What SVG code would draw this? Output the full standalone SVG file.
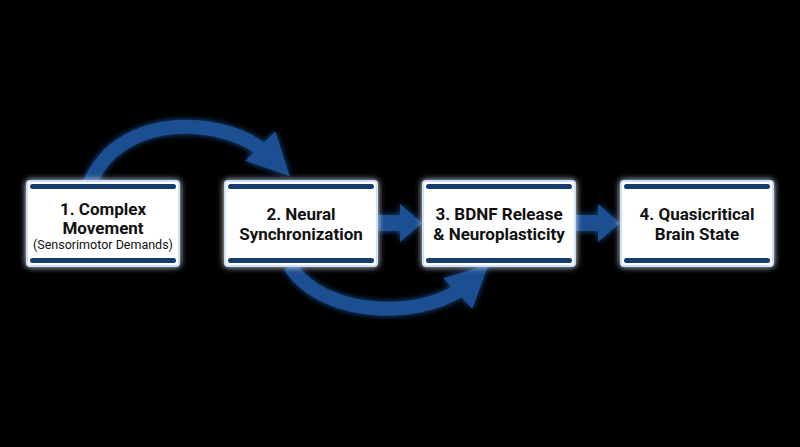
<svg xmlns="http://www.w3.org/2000/svg" width="800" height="447" viewBox="0 0 800 447">
<defs>
<filter id="glow" x="-20%" y="-20%" width="140%" height="140%"><feGaussianBlur in="SourceAlpha" stdDeviation="4"/><feFlood flood-color="#2f6fd0" flood-opacity="0.9"/><feComposite operator="in" in2="SourceGraphic"/><feMerge><feMergeNode/><feMergeNode in="SourceGraphic"/></feMerge></filter>
<filter id="g2" x="-30%" y="-30%" width="160%" height="160%"><feGaussianBlur in="SourceGraphic" stdDeviation="3" result="b"/><feMerge><feMergeNode in="b"/><feMergeNode in="SourceGraphic"/></feMerge></filter>
<filter id="bx" x="-20%" y="-30%" width="140%" height="160%"><feMorphology in="SourceAlpha" operator="dilate" radius="2"/><feGaussianBlur stdDeviation="4"/><feFlood flood-color="#3a7ee8"/><feComposite operator="in" in2="SourceAlpha"/></filter>
<marker id="ah" markerWidth="3" markerHeight="3" refX="1.2" refY="1.5" orient="auto"><path d="M0,0 L3,1.5 L0,3 z" fill="#1b4f91"/></marker>
</defs>
<style>
.box{fill:#fff;stroke:#cfe0ff;stroke-width:2}
.bar{fill:#163a6e}
.t{font-family:Roboto,"Liberation Sans",sans-serif;font-weight:bold;font-size:17px;fill:#111;text-anchor:middle}
.s{font-family:Roboto,"Liberation Sans",sans-serif;font-size:12.5px;fill:#111;text-anchor:middle}
.c{fill:none;stroke:#1b4f91;stroke-width:14}
</style>
<rect width="800" height="447" fill="#000"/>
<g id="connectors" filter="url(#g2)">
<path class="c" d="M90,183 C120,110 230,115 272,158" marker-end="url(#ah)"/>
<path class="c" d="M290,266 C325,320 430,320 470,282" marker-end="url(#ah)"/>
<path d="M378,215 H400 V204 L422,223 L400,242 V231 H378 Z" fill="#1b4f91"/>
<path d="M576,215 H598 V204 L620,223 L598,242 V231 H576 Z" fill="#1b4f91"/>
</g>
<g id="n1" filter="url(#g2)"><rect class="box" x="27" y="181" width="152" height="85" rx="3"/><rect class="bar" x="30" y="184" width="146" height="5" rx="2.5"/><rect class="bar" x="30" y="258" width="146" height="5" rx="2.5"/></g>
<g id="n2" filter="url(#g2)"><rect class="box" x="225" y="181" width="152" height="85" rx="3"/><rect class="bar" x="228" y="184" width="146" height="5" rx="2.5"/><rect class="bar" x="228" y="258" width="146" height="5" rx="2.5"/></g>
<g id="n3" filter="url(#g2)"><rect class="box" x="423" y="181" width="152" height="85" rx="3"/><rect class="bar" x="426" y="184" width="146" height="5" rx="2.5"/><rect class="bar" x="426" y="258" width="146" height="5" rx="2.5"/></g>
<g id="n4" filter="url(#g2)"><rect class="box" x="621" y="181" width="152" height="85" rx="3"/><rect class="bar" x="624" y="184" width="146" height="5" rx="2.5"/><rect class="bar" x="624" y="258" width="146" height="5" rx="2.5"/></g>
<g id="labels">
<text class="t" x="103" y="215">1. Complex</text>
<text class="t" x="103" y="234">Movement</text>
<text class="s" x="103" y="249">(Sensorimotor Demands)</text>
<text class="t" x="301" y="220">2. Neural</text>
<text class="t" x="301" y="240">Synchronization</text>
<text class="t" x="499" y="220">3. BDNF Release</text>
<text class="t" x="499" y="240">&amp; Neuroplasticity</text>
<text class="t" x="697" y="220">4. Quasicritical</text>
<text class="t" x="697" y="240">Brain State</text>
</g>
</svg>
